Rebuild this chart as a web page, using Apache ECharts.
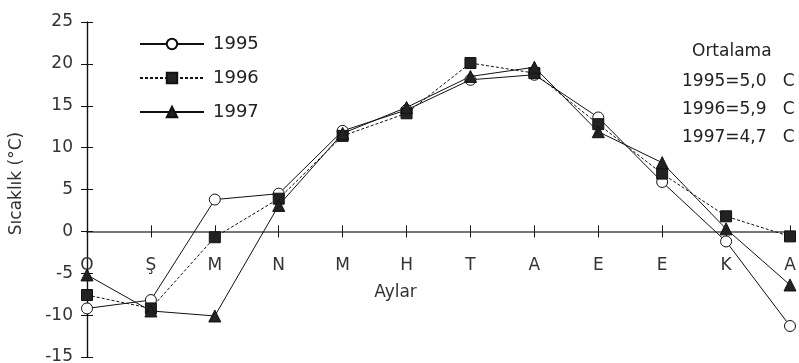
<!DOCTYPE html>
<html>
<head>
<meta charset="utf-8">
<script src="https://cdn.jsdelivr.net/npm/echarts@6/dist/echarts.min.js"></script>
<style>html,body{margin:0;padding:0;background:#fff}#c{width:799px;height:363px}</style>
</head>
<body>
<div id="c"></div>
<script>
var months = ['O', 'Ş', 'M', 'N', 'M', 'H', 'T', 'A', 'E', 'E', 'K', 'A'];
var yearNames = ['1995', '1996', '1997'];
var t1995 = [-9.2, -8.2, 3.8, 4.5, 12.0, 14.5, 18.1, 18.7, 13.6, 5.9, -1.2, -11.3];
var t1996 = [-7.6, -9.2, -0.7, 3.9, 11.4, 14.1, 20.1, 18.9, 12.8, 6.9, 1.8, -0.6];
var t1997 = [-5.2, -9.5, -10.1, 3.1, 11.7, 14.8, 18.5, 19.6, 11.9, 8.2, 0.3, -6.4];
var avgTitle = 'Ortalama';
var avgLines = ['1995=5,0   C', '1996=5,9   C', '1997=4,7   C'];
var yMin = -15, yMax = 25, yStep = 5;

var FONT = 'DejaVu Sans';
var W = 799, H = 363;
var G = {left: 87, right: 9, top: 22, bottom: 6};
var plotH = H - G.top - G.bottom;
// move the category axis up from the grid bottom to the zero line
var zeroShift = -plotH * (0 - yMin) / (yMax - yMin);

var chart = echarts.init(document.getElementById('c'), null, {renderer: 'canvas'});

function yAx(inside, main) {
  return {
    type: 'value', position: 'left', min: yMin, max: yMax, interval: yStep,
    splitLine: {show: false},
    axisLine: {show: true, onZero: false, lineStyle: {color: '#111', width: 1.2}},
    axisTick: {show: true, inside: inside, length: 6, lineStyle: {color: '#111', width: 1}},
    axisLabel: {show: main, color: '#333', fontFamily: FONT, fontSize: 17, margin: 14},
    name: main ? 'Sıcaklık (°C)' : '',
    nameLocation: 'middle', nameGap: 62, nameRotate: 90,
    nameTextStyle: {color: '#333', fontFamily: FONT, fontSize: 17, padding: [0, 0, 0, 12]}
  };
}
function xAx(inside, main) {
  return {
    type: 'category', data: months, boundaryGap: false, position: 'bottom',
    offset: zeroShift,
    axisLine: {show: true, onZero: false, lineStyle: {color: '#777', width: 2}},
    axisTick: {show: true, inside: inside, length: 6, lineStyle: {color: '#111', width: 1}},
    axisLabel: {show: main, color: '#333', fontFamily: FONT, fontSize: 17, margin: 26},
    splitLine: {show: false},
    name: main ? 'Aylar' : '',
    nameLocation: 'middle', nameGap: 53,
    nameTextStyle: {color: '#333', fontFamily: FONT, fontSize: 17, padding: [0, 86, 0, 0]}
  };
}
function ser(name, data, symbol, size, fill, dashed) {
  return {
    name: name, type: 'line', data: data, xAxisIndex: 0, yAxisIndex: 0,
    symbol: symbol, symbolSize: size, showSymbol: true,
    lineStyle: {color: '#111', width: 1, type: dashed ? [3, 2] : 'solid'},
    itemStyle: {color: fill, borderColor: '#111', borderWidth: 1},
    emphasis: {disabled: true}, animation: false
  };
}
chart.setOption({
  animation: false,
  backgroundColor: '#fff',
  grid: {left: G.left, right: G.right, top: G.top, bottom: G.bottom, outerBoundsMode: 'none'},
  xAxis: [xAx(false, true), xAx(true, false)],
  yAxis: [yAx(false, true), yAx(true, false)],
  title: [
    {text: avgTitle, left: 692, top: 43, padding: 0,
     textStyle: {fontFamily: FONT, fontSize: 17, fontWeight: 'normal', color: '#222'}},
    {text: avgLines.join('\n'), left: 682, top: 68, padding: 0,
     textStyle: {fontFamily: FONT, fontSize: 17, fontWeight: 'normal', color: '#222', lineHeight: 28}}
  ],
  legend: {
    data: yearNames, orient: 'vertical', left: 139, top: 35,
    itemWidth: 64, itemHeight: 13, itemGap: 16, padding: 0,
    textStyle: {fontFamily: FONT, fontSize: 18, color: '#222', padding: [0, 0, 0, 4]},
    selectedMode: false
  },
  series: [
    ser(yearNames[0], t1995, 'circle', 11, '#fff', false),
    ser(yearNames[1], t1996, 'rect', 11, '#222', true),
    ser(yearNames[2], t1997, 'triangle', 12, '#222', false)
  ]
});
</script>
</body>
</html>
